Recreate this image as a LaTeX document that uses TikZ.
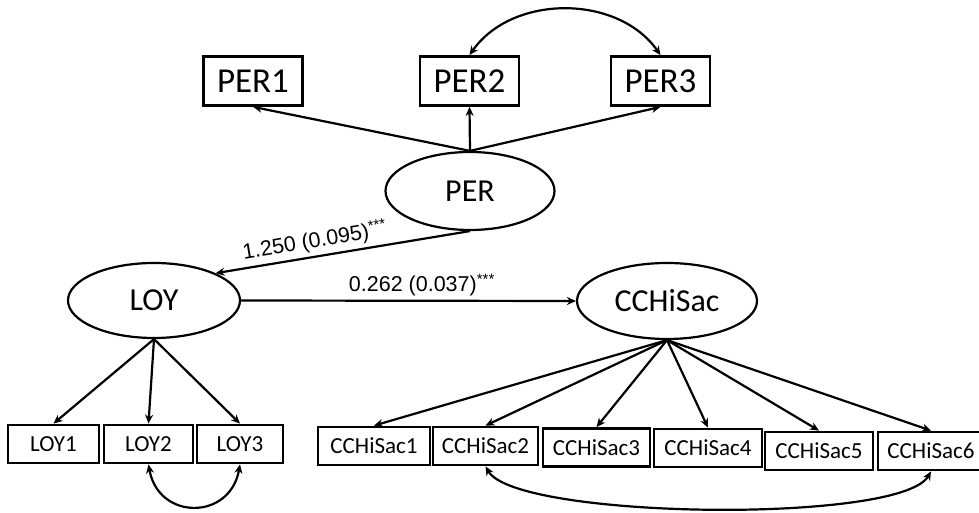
\documentclass[tikz,border=0pt]{standalone}
\usepackage{fontspec}
\setmainfont{Carlito}
\newfontfamily\estfont{Liberation Sans}
\usepackage{tikz}
\usetikzlibrary{arrows.meta,shapes.geometric}

\begin{document}
\begin{tikzpicture}[x=1pt, y=1pt, line width=2.2pt, >={Stealth[length=9pt,width=8pt]},
		ind/.style={draw, rectangle, line width=2.8pt, inner sep=0pt, minimum height=38pt, font=\fontsize{23}{23}\selectfont},
		per/.style={ind, minimum width=99pt, minimum height=49pt, font=\fontsize{35}{35}\selectfont},
		lat/.style={draw, ellipse, line width=2.2pt, inner sep=0pt, minimum width=172pt, minimum height=76pt, font=\fontsize{32}{32}\selectfont},
		est/.style={font=\estfont\fontsize{21.5}{21.5}\selectfont}]
		\useasboundingbox (0,0) rectangle (979,513);

		\node[per] (P1) at (253,432) {PER1};
		\node[per] (P2) at (469.5,432) {PER2};
		\node[per] (P3) at (660.5,432) {PER3};
		\node[lat, minimum width=169pt, minimum height=78pt] (P) at (470,322) {PER};

		\node[lat, minimum height=75pt] (L) at (154,212.5) {LOY};
		\node[lat, minimum width=180pt] (C) at (667,212) {CCHiSac};

		\node[ind, minimum width=91pt] (L1) at (53.5,69) {LOY1};
		\node[ind, minimum width=89pt] (L2) at (148.5,69) {LOY2};
		\node[ind, minimum width=86pt] (L3) at (240,69) {LOY3};

		\node[ind, minimum width=112pt] (C1) at (374,67) {CCHiSac1};
		\node[ind, minimum width=105pt] (C2) at (485.5,67) {CCHiSac2};
		\node[ind, minimum width=107pt] (C3) at (596.5,65.5) {CCHiSac3};
		\node[ind, minimum width=108pt] (C4) at (708,65) {CCHiSac4};
		\node[ind, minimum width=108pt] (C5) at (819,62) {CCHiSac5};
		\node[ind, minimum width=106pt] (C6) at (931,62) {CCHiSac6};

		\path [->] (P.north) edge (P1.south);
		\path [->] (P.north) edge (P2.south);
		\path [->] (P.north) edge (P3.south);
		\path [<->] (P2.north) edge[bend left=55] (P3.north);

		\path [->] (P.south) edge node[est, sloped, above, pos=0.6] {1.250 (0.095)\textsuperscript{***}} (L.north east);
		\path [->] (L.east) edge node[est, above, pos=0.54] {0.262 (0.037)\textsuperscript{***}} (C.west);

		\path [->] (L.south) edge (L1.north);
		\path [->] (L.south) edge (L2.north);
		\path [->] (L.south) edge (L3.north);
		\path [<->] (L2.south) edge[out=-80, in=-100, looseness=1.6] (L3.south);

		\path [->] (C.south) edge (C1.north);
		\path [->] (C.south) edge (C2.north);
		\path [->] (C.south) edge (C3.north);
		\path [->] (C.south) edge (C4.north);
		\path [->] (C.south) edge (C5.north);
		\path [->] (C.south) edge (C6.north);
		\path [<->] (C2.south) edge[out=-60, in=-120, looseness=0.35] (C6.south);
\end{tikzpicture}
\end{document}
